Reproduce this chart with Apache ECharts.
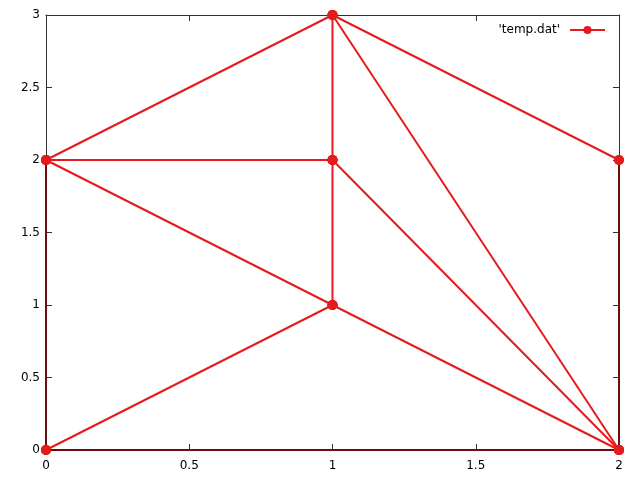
<!DOCTYPE html>
<html><head><meta charset="utf-8">
<script src="https://cdn.jsdelivr.net/npm/echarts@6/dist/echarts.min.js"></script>
<style>html,body{margin:0;padding:0;background:#fff}#c{width:640px;height:480px}</style>
</head><body><div id="c"></div>
<script>
// points (x, y)
const ptX = [0, 0, 1, 1, 1, 2, 2];
const ptY = [0, 2, 1, 2, 3, 0, 2];
// segments as point-index pairs
const segFrom = [0, 2, 0, 0, 1, 1, 1, 2, 3, 4, 4, 3, 5];
const segTo   = [2, 5, 5, 1, 4, 3, 2, 3, 4, 6, 5, 5, 6];
const xTicks = [0, 0.5, 1, 1.5, 2];
const yTicks = [0, 0.5, 1, 1.5, 2, 2.5, 3];
const seriesName = "'temp.dat'";

const RED = '#e41a1c', EDGE = '#6e0c0c';
const XMIN = xTicks[0], XMAX = xTicks[xTicks.length-1];
const YMIN = yTicks[0], YMAX = yTicks[yTicks.length-1];
const FONT = 'DejaVu Sans';

const series = [];
for (let i = 0; i < segFrom.length; i++) {
  const a = segFrom[i], b = segTo[i];
  const x1 = ptX[a], y1 = ptY[a], x2 = ptX[b], y2 = ptY[b];
  const onEdge = (x1 === x2 && (x1 === XMIN || x1 === XMAX)) || (y1 === y2 && (y1 === YMIN || y1 === YMAX));
  series.push({
    type: 'line', name: seriesName,
    data: [[x1, y1], [x2, y2]],
    symbol: 'circle', symbolSize: 10, showSymbol: true,
    lineStyle: {color: onEdge ? EDGE : RED, width: 2},
    itemStyle: {color: RED},
    z: onEdge ? 1 : 3,
    animation: false, silent: true
  });
}

const tickStyle = {show: true, inside: true, length: 6, lineStyle: {color: '#333', width: 1}};
const chart = echarts.init(document.getElementById('c'), null, {renderer: 'canvas'});
chart.setOption({
  animation: false,
  grid: {left: 46, right: 21, top: 15, bottom: 30, containLabel: false},
  legend: {
    show: true, right: 29, top: 19, align: 'right', itemWidth: 35, itemHeight: 10, itemGap: 10,
    data: [{name: seriesName}],
    textStyle: {fontFamily: FONT, fontSize: 12, color: '#000', padding: [0, 5, 0, 0]},
    selectedMode: false
  },
  xAxis: [
    {type: 'value', min: XMIN, max: XMAX, interval: 0.5, position: 'bottom',
     axisLine: {show: true, onZero: false, lineStyle: {color: '#333', width: 1}},
     axisTick: tickStyle, splitLine: {show: false},
     axisLabel: {show: true, margin: 10, color: '#000', fontFamily: FONT, fontSize: 12}},
    {type: 'value', min: XMIN, max: XMAX, interval: 0.5, position: 'top',
     axisLine: {show: true, onZero: false, lineStyle: {color: '#333', width: 1}},
     axisTick: tickStyle, splitLine: {show: false}, axisLabel: {show: false}}
  ],
  yAxis: [
    {type: 'value', min: YMIN, max: YMAX, interval: 0.5, position: 'left',
     axisLine: {show: true, onZero: false, lineStyle: {color: '#333', width: 1}},
     axisTick: tickStyle, splitLine: {show: false},
     axisLabel: {show: true, margin: 6, color: '#000', fontFamily: FONT, fontSize: 12}},
    {type: 'value', min: YMIN, max: YMAX, interval: 0.5, position: 'right',
     axisLine: {show: true, onZero: false, lineStyle: {color: '#333', width: 1}},
     axisTick: tickStyle, splitLine: {show: false}, axisLabel: {show: false}}
  ],
  series: series
});
</script></body></html>
